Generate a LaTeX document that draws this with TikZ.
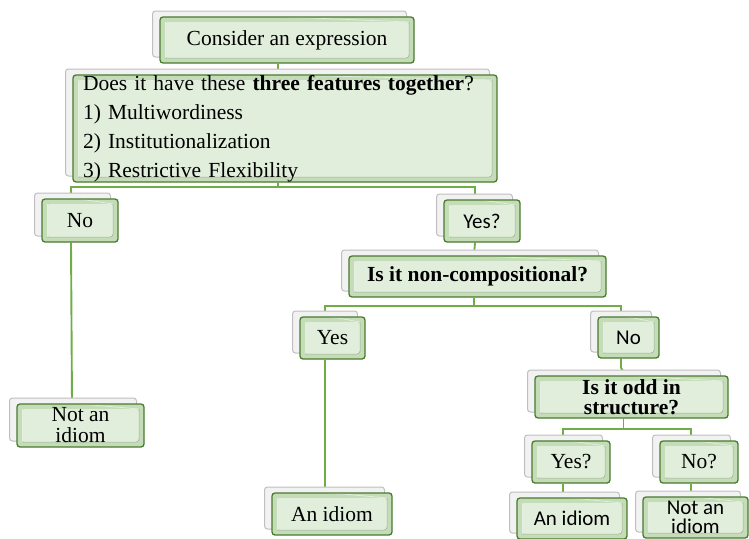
\documentclass[tikz,border=0pt]{standalone}
\usepackage{fontspec}
\setmainfont{Liberation Serif}
\newfontfamily\calfont{Carlito}
\usetikzlibrary{shadows,backgrounds,calc}
\definecolor{gborder}{HTML}{4A7A2E}
\definecolor{gfill}{HTML}{C4DCB8}
\definecolor{gin}{HTML}{E2EEDC}
\definecolor{gline}{HTML}{70AD47}
\tikzset{
  gbox/.style={draw=gborder, line width=1.3pt, rounded corners=3pt, fill=gfill,
    inner sep=0pt, align=center, font=\fontsize{21.5}{21}\selectfont,
    copy shadow={shadow xshift=-7.5pt, shadow yshift=6pt, fill=white!90!gray, draw=gray!50, line width=1pt},
    path picture={
      \fill[gin] ([shift={(5pt,5pt)}]path picture bounding box.south west)
        rectangle ([shift={(-5pt,-5pt)}]path picture bounding box.north east);
      \draw[white!55!gfill, line width=0.7pt]
        ([shift={(5pt,5pt)}]path picture bounding box.north west)
        -- ([shift={(-5pt,-5pt)}]path picture bounding box.north east);
      \draw[white!55!gfill, line width=0.7pt]
        ([shift={(5pt,5pt)}]path picture bounding box.south west)
        -- ([shift={(5pt,-5pt)}]path picture bounding box.north west);
      \draw[gfill!80!black, line width=0.5pt]
        ([shift={(5pt,5pt)}]path picture bounding box.south west)
        -- ([shift={(-5pt,5pt)}]path picture bounding box.south east)
        -- ([shift={(-5pt,-5pt)}]path picture bounding box.north east);
    }},
  sbox/.style={gbox, font=\calfont\fontsize{21}{19}\selectfont},
  conn/.style={draw=gline, line width=1.9pt},
}
\begin{document}
\begin{tikzpicture}[x=1pt,y=-1pt]
\useasboundingbox (0,0) rectangle (749,538);
\node[gbox, minimum width=254pt, minimum height=46pt] (consider) at (287,40) {Consider an expression};
\node[gbox, minimum width=424pt, minimum height=107pt, align=left, text width=404pt,
  font=\fontsize{21.5}{29}\selectfont] (q1) at (285,128.5)
  {Does it have these \textbf{three features together}?\\1) Multiwordiness\\2) Institutionalization\\3) Restrictive Flexibility};
\node[gbox, minimum width=76pt, minimum height=43pt] (no1) at (80,220.5) {No};
\node[sbox, minimum width=76pt, minimum height=42pt] (yes1) at (482,221) {Yes?};
\node[gbox, minimum width=257pt, minimum height=41pt, font=\bfseries\fontsize{21.5}{21}\selectfont] (nc) at (477.5,276.5) {Is it non-compositional?};
\node[gbox, minimum width=127pt, minimum height=43pt] (noleft) at (80.5,425.5) {Not an\\idiom};
\node[gbox, minimum width=65pt, minimum height=42pt] (yes2) at (332.5,338) {Yes};
\node[sbox, minimum width=61pt, minimum height=41pt] (no2) at (628.5,337.5) {No};
\node[gbox, minimum width=120pt, minimum height=42pt] (idiomL) at (332,514) {An idiom};
\node[gbox, minimum width=193pt, minimum height=42pt, font=\bfseries\fontsize{21.5}{20}\selectfont] (odd) at (631.5,397) {Is it odd in\\structure?};
\node[gbox, minimum width=78pt, minimum height=42pt] (yes3) at (571,462) {Yes?};
\node[gbox, minimum width=78pt, minimum height=42pt] (no3) at (699,462) {No?};
\node[sbox, minimum width=110pt, minimum height=41pt] (idiomR) at (572,518.5) {An idiom};
\node[sbox, minimum width=105pt, minimum height=41pt] (notR) at (695.5,517.5) {Not an\\idiom};
\begin{scope}[on background layer]
\draw[conn] ([xshift=-9pt]consider.south) -- ([xshift=-9pt]consider.south |- q1.north);
\draw[conn] ([xshift=-7pt]q1.south) -- ++(0,4) -| ([xshift=-9pt]no1.north);
\draw[conn] ([xshift=-7pt]q1.south) -- ++(0,4) -| ([xshift=-7pt]yes1.north);
\draw[conn] ([xshift=-9pt]no1.south) -- ([xshift=-8.5pt]noleft.north);
\draw[conn] ([xshift=-7pt]yes1.south) -- ([xshift=-3.5pt]nc.north);
\draw[conn] ([xshift=-3.5pt]nc.south) -- ++(0,8) -| ([xshift=-7.5pt]yes2.north);
\draw[conn] ([xshift=-3.5pt]nc.south) -- ++(0,8) -| ([xshift=-7.5pt]no2.north);
\draw[conn] ([xshift=-7.5pt]yes2.south) -- ([xshift=-7pt]idiomL.north);
\draw[conn] ([xshift=-7.5pt]no2.south) -- ++(0,9) -- ([xshift=-6.5pt]odd.north);
\draw[conn] ([xshift=-8pt]odd.south) -- ++(0,10) -| ([xshift=-8pt]yes3.north);
\draw[conn] ([xshift=-8pt]odd.south) -- ++(0,10) -| ([xshift=-8pt]no3.north);
\draw[conn] ([xshift=-8pt]yes3.south) -- ([xshift=-9pt]idiomR.north);
\draw[conn] ([xshift=-8pt]no3.south) -- ([xshift=-4.5pt]notR.north);
\end{scope}
\end{tikzpicture}
\end{document}
